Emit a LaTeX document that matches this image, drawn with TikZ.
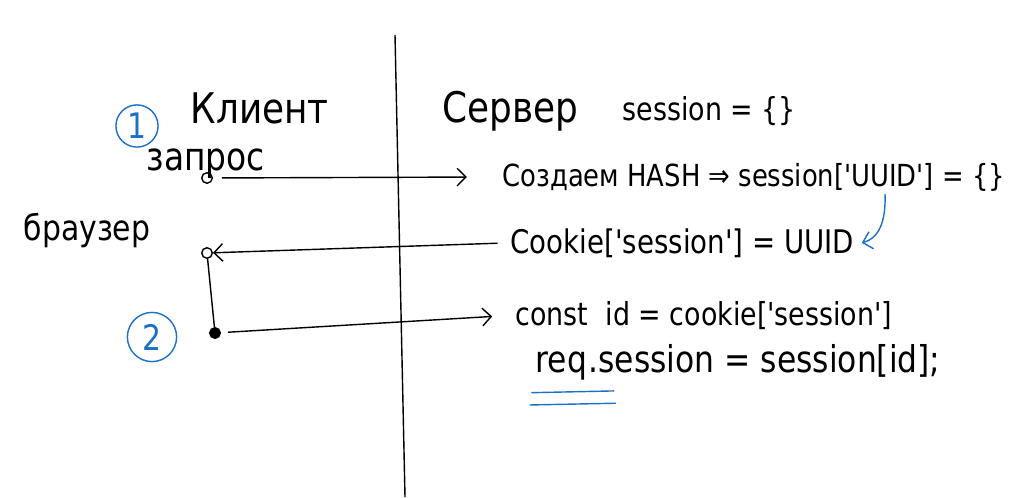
\documentclass[tikz,border=0pt]{standalone}
\usepackage{fontspec}
\setmainfont{DejaVu Sans}[FakeStretch=0.85,Ligatures=TeXOff]
\usepackage{tikz}
\usetikzlibrary{arrows.meta}
\definecolor{penblue}{RGB}{28,112,200}

\begin{document}
\begin{tikzpicture}[x=0.02cm,y=-0.02cm,line width=0.8pt,
  >={Straight Barb[length=5pt,width=10pt]},
  every node/.style={inner sep=0pt,anchor=base west},
  head/.style={font=\fontsize{24}{26}\selectfont},
  code/.style={font=\fontsize{18}{20}\selectfont},
  dot/.style={shape=circle,draw=black,anchor=center,minimum size=6pt},
  num/.style={shape=circle,draw=penblue,text=penblue,anchor=center,minimum size=24pt,font=\fontsize{20}{22}\selectfont}]
\useasboundingbox (0,0) rectangle (1024,497);

% the wall between both sides
\draw (395,35) -- (405,497);

% client side
\node[head](client) at (190,123) {Клиент};
\node[num](one) at (137,126) {1};
\node[head,font=\fontsize{22}{24}\selectfont](request) at (146,170) {запрос};
\node[head,font=\fontsize{20}{22}\selectfont](browser) at (23,240) {браузер};
\node[dot](q1) at (207,178) {};
\node[dot](br) at (207,253) {};
\node[dot,fill=black](q2) at (215,333) {};
\node[num,minimum size=28pt](two) at (152,337) {2};

% server side
\node[head](server) at (442,122) {Сервер};
\node[code](store) at (622,120) {session = \{\}};
\node[code,font=\fontsize{17.3}{19}\selectfont](hash) at (502,186) {Создаем HASH ⇒ session['UUID'] = \{\}};
\node[code,font=\fontsize{18.5}{20}\selectfont](cookie) at (510,253) {Cookie['session'] = UUID};
\node[code](const) at (515,325) {const~~id = cookie['session']};
\node[code,font=\fontsize{21}{23}\selectfont](req) at (535,372) {req};
\node[code,font=\fontsize{21}{23}\selectfont](reqrest) at (req.base east) {.session = session[id];};
\coordinate (uuid) at (885,194);

\path [->] (q1) edge[shorten <=5pt,shorten >=20pt] (hash.west);
\path [->] (cookie.west) edge[shorten <=7pt] (br);
\draw (br) -- (q2);
\path [->] (q2) edge[shorten <=4pt,shorten >=13pt] (const.west);
\draw[->,penblue] (uuid) to[out=-88,in=15] ([xshift=4pt]cookie.east);

% mark under req
\draw[penblue] ([xshift=-2pt,yshift=-7pt]req.south west) -- ([xshift=15pt,yshift=-6pt]req.south east);
\draw[penblue] ([xshift=-3pt,yshift=-14pt]req.south west) -- ([xshift=16pt,yshift=-13pt]req.south east);
\end{tikzpicture}
\end{document}
